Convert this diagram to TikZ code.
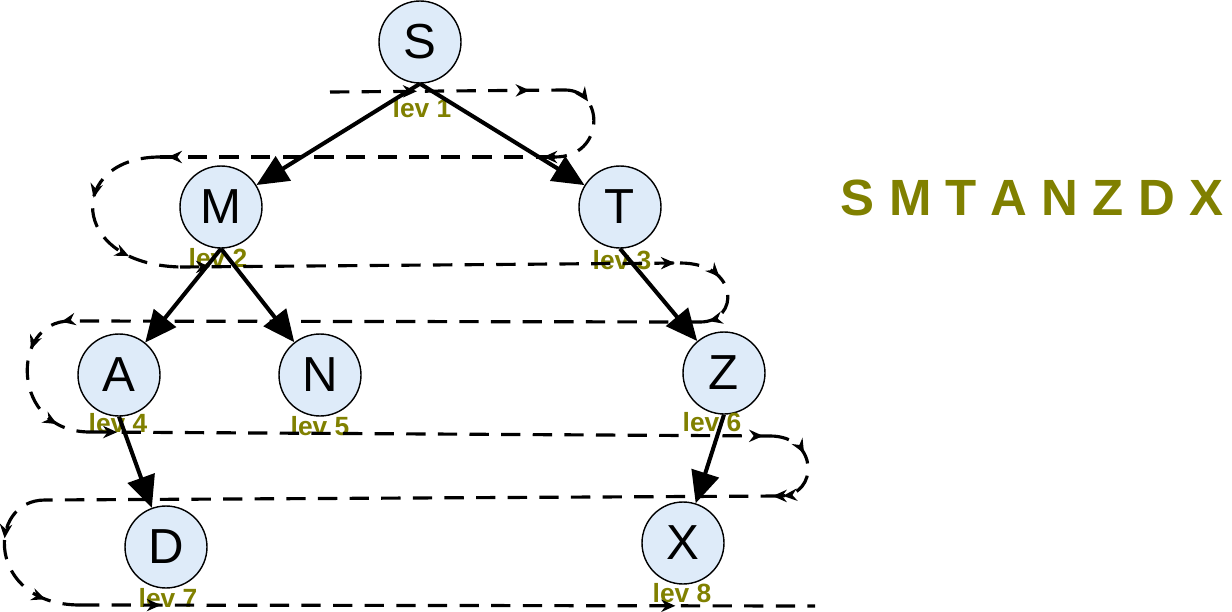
\documentclass[tikz,border=0pt]{standalone}
\usepackage{fontspec}
\setmainfont{Liberation Sans}
\usetikzlibrary{arrows.meta,decorations.markings}
\definecolor{levcol}{RGB}{128,128,0}
\definecolor{nodefill}{RGB}{222,235,249}

\begin{document}
\begin{tikzpicture}[x=0.02cm,y=-0.02cm,
  vert/.style={circle,draw,line width=0.8pt,fill=nodefill,minimum size=1.64cm,inner sep=0pt,font=\fontsize{28}{30}\selectfont},
  lev/.style={text=levcol,inner sep=0pt,font=\bfseries\fontsize{15}{17}\selectfont},
  tree/.style={line width=2.3pt,-{Triangle[length=18pt,width=16pt]}},
  walk/.style={line width=1.8pt,dash pattern=on 11pt off 7pt},
  tipat/.style={postaction={decorate,decoration={markings,mark=at position #1 with {\arrow{Stealth[length=8pt,width=7pt]}}}}}]

  \useasboundingbox (0,0) rectangle (1232,612);

  %% tree nodes
  \node[vert] (S) at (420,42) {S};
  \node[vert] (M) at (221,207) {M};
  \node[vert] (T) at (620,207) {T};
  \node[vert] (A) at (119,375) {A};
  \node[vert] (N) at (320,375) {N};
  \node[vert] (Z) at (724,373) {Z};
  \node[vert] (D) at (166,547) {D};
  \node[vert] (X) at (683,543) {X};

  %% levels
  \node[lev] (l1) at (422,108) {lev 1};
  \node[lev] (l2) at (218,258) {lev 2};
  \node[lev] (l3) at (622,260) {lev 3};
  \node[lev] (l4) at (118,423) {lev 4};
  \node[lev] (l5) at (320,426) {lev 5};
  \node[lev] (l6) at (712,422) {lev 6};
  \node[lev] (l7) at (168,598) {lev 7};
  \node[lev] (l8) at (682,593) {lev 8};

  %% visiting order
  \node[text=levcol,inner sep=0pt,font=\bfseries\fontsize{29}{32}\selectfont] (order) at (1032,198) {S M T A N Z D X};

  %% tree edges
  \draw[tree] (S.south) -- (M); % S->M
  \draw[tree] (S.south) -- (T); % S->T
  \draw[tree] (M.south) -- (A); % M->A
  \draw[tree] (M.south) -- (N); % M->N
  \draw[tree] (T.south) -- (Z); % T->Z
  \draw[tree] (A.south) -- (D); % A->D
  \draw[tree] (Z.south) -- (X); % Z->X

  %% level walk
  \coordinate (w0) at (330,92);
  \coordinate (w1) at (565,90);
  \coordinate (w2) at (555,157);
  \coordinate (w3) at (160,157);
  \coordinate (w4) at (180,267);
  \coordinate (w5) at (680,263);
  \coordinate (w6) at (700,322);
  \coordinate (w7) at (70,321);
  \coordinate (w8) at (90,432);
  \coordinate (w9) at (770,436);
  \coordinate (w10) at (780,496);
  \coordinate (w11) at (45,500);
  \coordinate (w12) at (80,605);
  \coordinate (w13) at (815,606);

  \draw[walk,tipat=0.37,tipat=0.85] (w0) -- (w1);
  \draw[walk,tipat=0.25] (w1) .. controls +(40,0) and +(50,0) .. (w2);
  \draw[walk,tipat=0.03,tipat=0.98] (w2) -- (w3);
  \draw[walk,tipat=0.4,tipat=0.75] (w3) .. controls +(-93,0) and +(-113,-3) .. (w4);
  \draw[walk,tipat=0.06,tipat=0.99] (w4) -- (w5);
  \draw[walk,tipat=0.4,tipat=0.92] (w5) .. controls +(60,0) and +(40,0) .. (w6);
  \draw[walk] (w6) -- (w7);
  \draw[walk,tipat=0.05,tipat=0.3,tipat=0.8] (w7) .. controls +(-60,0) and +(-80,0) .. (w8);
  \draw[walk,tipat=0.04,tipat=0.99] (w8) -- (w9);
  \draw[walk,tipat=0.4,tipat=0.97] (w9) .. controls +(49,0) and +(39,0) .. (w10);
  \draw[walk,tipat=0.01] (w10) -- (w11);
  \draw[walk,tipat=0.35,tipat=0.8] (w11) .. controls +(-59,0) and +(-94,0) .. (w12);
  \draw[walk,tipat=0.11,tipat=0.81] (w12) -- (w13);

\end{tikzpicture}
\end{document}
